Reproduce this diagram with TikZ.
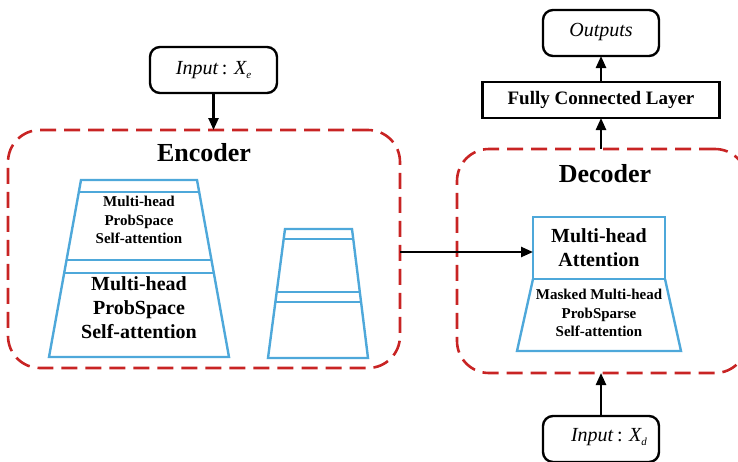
\documentclass[tikz,border=0pt]{standalone}
\usepackage{fontspec}
\setmainfont{Liberation Serif}
\usetikzlibrary{arrows.meta}
\definecolor{dred}{RGB}{200,36,36}
\definecolor{lblue}{RGB}{78,168,218}
\tikzset{
  every node/.style={inner sep=0pt, outer sep=0pt},
  blk/.style={draw=black, line width=2.4pt, rounded corners=10pt},
  fcbox/.style={draw=black, line width=2.4pt},
  grp/.style={draw=dred, line width=2.6pt, rounded corners=32pt, dash pattern=on 16pt off 8pt},
  bl/.style={draw=lblue, line width=2.4pt, line join=miter},
  arr/.style={draw=black, line width=2.4pt, -{Triangle[length=12pt,width=10pt]}},
  ttl/.style={font=\fontsize{26}{30}\selectfont\bfseries},
  smt/.style={font=\fontsize{15}{18.5}\selectfont\bfseries, align=center},
  bgt/.style={font=\fontsize{20}{24}\selectfont\bfseries, align=center},
}
\newcommand{\subx}[1]{\raisebox{-0.45ex}{\fontsize{11}{11}\selectfont\itshape #1}}
\begin{document}
\begin{tikzpicture}[x=1pt,y=-1pt]
\useasboundingbox (0,0) rectangle (738,461);
% groups
\node[grp, minimum width=392pt, minimum height=238pt] (enc) at (204,249) {};
\node[grp, minimum width=290pt, minimum height=224pt] (dec) at (602,261) {};
\node[ttl] (enct) at (204,153) {Encoder};
\node[ttl] (dect) at (605,174) {Decoder};
% inputs / outputs
\node[blk, minimum width=127pt, minimum height=46pt] (inxe) at (213.5,70) {};
\node[font=\fontsize{20}{24}\selectfont] (inxet) at (213.5,70) {\itshape Input\/\,\upshape: \itshape X\subx{e}};
\node[blk, minimum width=116pt, minimum height=46pt] (out) at (601,33) {};
\node[font=\fontsize{20}{24}\selectfont\itshape] (outt) at (601,32) {Outputs};
\node[fcbox, minimum width=237pt, minimum height=36pt, font=\fontsize{19}{22}\selectfont\bfseries] (fc) at (601,100) {Fully Connected Layer};
\node[blk, minimum width=116pt, minimum height=46pt] (inxd) at (601,439) {};
\node[font=\fontsize{20}{24}\selectfont] (inxdt) at (609,437) {\itshape Input\/\,\upshape: \itshape X\subx{d}};
% encoder stacks
\draw[bl] (81,180) -- (197,180) -- (229,357) -- (49,357) -- cycle;
\draw[bl] (78.8,192) -- (199.2,192);
\draw[bl] (66.5,260) -- (211.5,260);
\draw[bl] (64.2,273) -- (213.8,273);
\node[smt] (e1t) at (139,220) {Multi-head\\ProbSpace\\Self-attention};
\node[bgt] (e2t) at (139,308) {Multi-head\\ProbSpace\\Self-attention};
\draw[bl] (285,229) -- (352,229) -- (368,358) -- (268,358) -- cycle;
\draw[bl] (283.7,239) -- (353.2,239);
\draw[bl] (276.8,292) -- (359.8,292);
\draw[bl] (275.5,302) -- (361.1,302);
% decoder blocks
\node[bl, draw, minimum width=132pt, minimum height=62pt] (mha) at (599,248) {};
\node[bgt] (mhat) at (599,248) {Multi-head\\Attention};
\draw[bl] (mha.south west) -- (517,351) -- (681,351) -- (mha.south east);
\node[smt] (mskt) at (599,313) {Masked Multi-head\\ProbSparse\\Self-attention};
% arrows
\draw[arr] (inxe.south) -- (inxe.south |- enc.north);
\draw[arr] (enc.east |- mha.west) ++(0,4) coordinate (ea) -- (ea -| mha.west);
\draw[arr] (inxd.north) -- (inxd.north |- dec.south);
\draw[arr] (fc.south |- dec.north) -- (fc.south);
\draw[arr] (fc.north) -- (out.south);
\end{tikzpicture}
\end{document}
